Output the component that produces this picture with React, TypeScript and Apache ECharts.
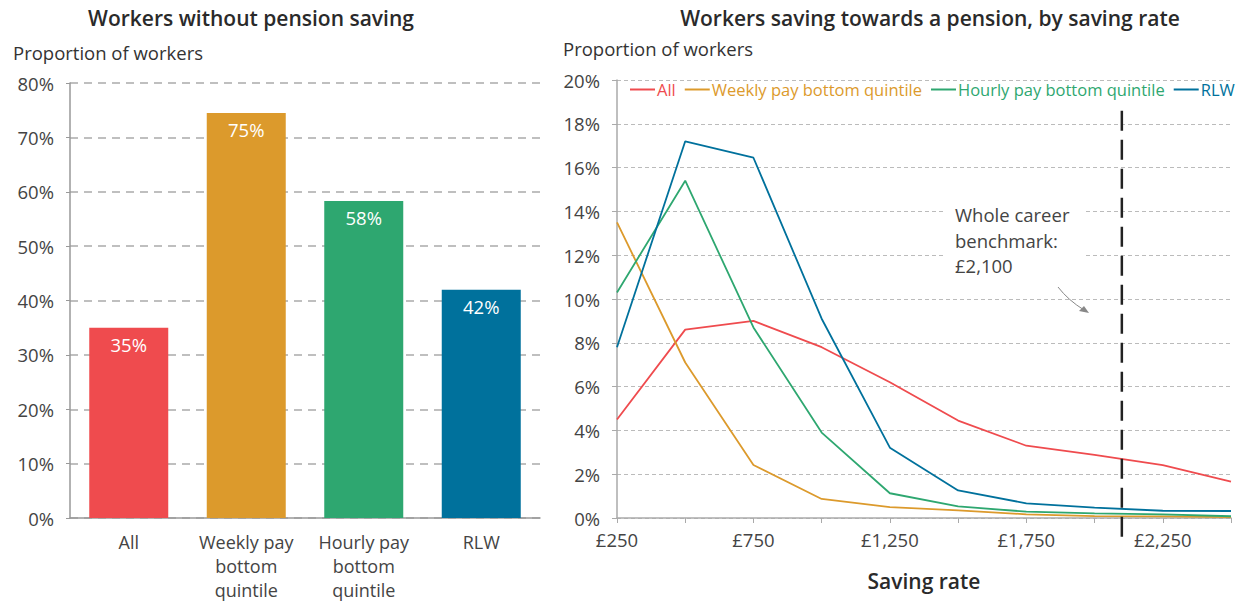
import React, { useEffect, useRef } from "react";
import * as echarts from "echarts";

const barCategories = ["All", "Weekly pay\nbottom\nquintile", "Hourly pay\nbottom\nquintile", "RLW"];
const barValues = [35, 74.5, 58.3, 42];
const barLabels = ["35%", "75%", "58%", "42%"];
const colors = ["#ef4b4e", "#dc9a2c", "#2ea770", "#00719c"];

const savingRates = [250, 500, 750, 1000, 1250, 1500, 1750, 2000, 2250, 2500];
const lineNames = ["All", "Weekly pay bottom quintile", "Hourly pay bottom quintile", "RLW"];
const allSeries = [4.5, 8.6, 9.0, 7.8, 6.2, 4.45, 3.3, 2.88, 2.41, 1.66];
const weeklySeries = [13.5, 7.1, 2.42, 0.87, 0.5, 0.35, 0.17, 0.09, 0.07, 0.04];
const hourlySeries = [10.3, 15.4, 8.7, 3.9, 1.13, 0.53, 0.29, 0.21, 0.17, 0.08];
const rlwSeries = [7.8, 17.2, 16.45, 9.1, 3.21, 1.26, 0.67, 0.47, 0.33, 0.32];
const benchmark = 2100;
const benchmarkTop = 18.6;
const benchmarkBottom = -0.9;

const FONT = "'Open Sans', Roboto, sans-serif";
const TXT = "#444";
const LBL = 18.5;

export default function App() {
  const ref = useRef<HTMLDivElement>(null);
  useEffect(() => {
    if (!ref.current) return;
    const chart = echarts.init(ref.current, undefined, { renderer: "svg" });
    const lineData = [allSeries, weeklySeries, hourlySeries, rlwSeries];
    const titleStyle = { fontSize: 21, fontWeight: 600, color: "#2a2a2a", fontFamily: FONT };
    chart.setOption({
      animation: false,
      textStyle: { fontFamily: FONT },
      title: [
        { text: "Workers without pension saving", left: 246, top: 2, textAlign: "center", textStyle: titleStyle },
        { text: "Workers saving towards a pension, by saving rate", left: 925, top: 2, textAlign: "center", textStyle: titleStyle },
        { text: "Proportion of workers", left: 8, top: 38, textStyle: { fontSize: LBL, fontWeight: 400, color: "#333", fontFamily: FONT } },
        { text: "Proportion of workers", left: 558, top: 34, textStyle: { fontSize: LBL, fontWeight: 400, color: "#333", fontFamily: FONT } },
      ],
      legend: {
        left: 625,
        top: 76,
        icon: "rect",
        itemWidth: 25,
        itemHeight: 2,
        itemGap: 9,
        textStyle: { fontSize: 16.5, fontFamily: FONT, padding: [0, 0, 0, -3] },
        data: lineNames.map((n, i) => ({ name: n, textStyle: { color: colors[i] } })),
      },
      grid: [
        { left: 70, right: 705, top: 83, bottom: 83 },
        { left: 617, right: 14, top: 80, bottom: 84 },
      ],
      xAxis: [
        {
          type: "category",
          gridIndex: 0,
          data: barCategories,
          axisTick: { show: false },
          axisLine: { lineStyle: { color: "#999", width: 1.5 } },
          axisLabel: { color: TXT, fontSize: 18, lineHeight: 24, margin: 12, interval: 0, fontFamily: FONT },
        },
        {
          type: "value",
          gridIndex: 1,
          min: 250,
          max: 2500,
          interval: 250,
          splitLine: { show: false },
          axisLine: { lineStyle: { color: "#aaa", width: 1.5 } },
          axisTick: { show: true, length: 5, lineStyle: { color: "#aaa" } },
          axisLabel: {
            color: TXT,
            fontSize: LBL,
            margin: 12,
            fontFamily: FONT,
            formatter: (v: number) => ((v - 250) % 500 === 0 ? "£" + v.toLocaleString("en-GB") : ""),
          },
          name: "Saving rate",
          nameLocation: "middle",
          nameGap: 52,
          nameTextStyle: { fontSize: 21, fontWeight: 600, color: "#2a2a2a", fontFamily: FONT },
        },
      ],
      yAxis: [
        {
          type: "value",
          gridIndex: 0,
          min: 0,
          max: 80,
          interval: 10,
          axisLine: { show: true, lineStyle: { color: "#999", width: 1.5 } },
          axisTick: { show: true, length: 4, lineStyle: { color: "#999" } },
          axisLabel: { color: TXT, fontSize: LBL, margin: 16, formatter: "{value}%", fontFamily: FONT },
          splitLine: { lineStyle: { color: "#aaa", type: [8, 6], width: 1.5 } },
        },
        {
          type: "value",
          gridIndex: 1,
          min: 0,
          max: 20,
          interval: 2,
          axisLine: { show: true, lineStyle: { color: "#aaa", width: 1.5 } },
          axisTick: { show: true, length: 5, lineStyle: { color: "#aaa" } },
          axisLabel: { color: TXT, fontSize: LBL, margin: 17, formatter: "{value}%", fontFamily: FONT },
          splitLine: { lineStyle: { color: "#bbb", type: [4, 3], width: 1 } },
        },
      ],
      series: [
        {
          type: "bar",
          xAxisIndex: 0,
          yAxisIndex: 0,
          barWidth: 79,
          data: barValues.map((v, i) => ({ value: v, itemStyle: { color: colors[i] } })),
          label: {
            show: true,
            position: "insideTop",
            distance: 7,
            color: "#fff",
            fontSize: LBL,
            fontFamily: FONT,
            formatter: (p: any) => barLabels[p.dataIndex],
          },
        },
        ...lineNames.map((n, i) => ({
          type: "line",
          name: n,
          xAxisIndex: 1,
          yAxisIndex: 1,
          data: savingRates.map((x, j) => [x, lineData[i][j]]),
          symbol: "none",
          lineStyle: { color: colors[i], width: 1.8 },
          itemStyle: { color: colors[i] },
          z: 3,
        })),
      ],
    });
    const p1 = chart.convertToPixel({ xAxisIndex: 1, yAxisIndex: 1 }, [benchmark, benchmarkTop]) as number[];
    const p2 = chart.convertToPixel({ xAxisIndex: 1, yAxisIndex: 1 }, [benchmark, benchmarkBottom]) as number[];
    chart.setOption({
      graphic: [
        {
          type: "text",
          left: 945,
          top: 202,
          z: 10,
          style: {
            text: "Whole career\nbenchmark:\n£2,100",
            fontSize: LBL,
            lineHeight: 25.5,
            fill: TXT,
            fontFamily: FONT,
            backgroundColor: "#fff",
            padding: [0, 14, 0, 10],
          },
        },
        {
          type: "bezierCurve",
          z: 10,
          shape: { x1: 1058, y1: 287, cpx1: 1068, cpy1: 300, x2: 1084, y2: 310 },
          style: { stroke: "#888", lineWidth: 1, fill: "none" },
        },
        {
          type: "polygon",
          z: 10,
          shape: { points: [[1089, 313], [1079, 311], [1084, 306]] },
          style: { fill: "#888" },
        },
        {
          type: "line",
          z: 20,
          shape: { x1: p1[0], y1: p1[1], x2: p2[0], y2: p2[1] },
          style: { stroke: "#222", lineWidth: 2.5, lineDash: [20, 9] },
        },
      ],
    });
    return () => chart.dispose();
  }, []);
  return <div ref={ref} style={{ position: "fixed", left: 0, top: 0, width: 1245, height: 602, background: "#fff" }} />;
}
